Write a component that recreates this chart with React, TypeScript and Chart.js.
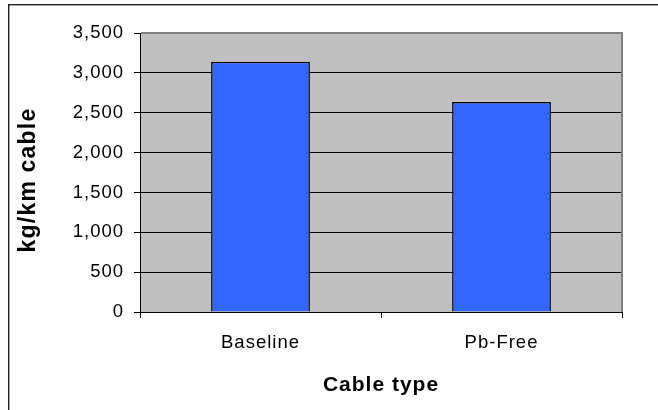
import React, { useEffect, useRef } from 'react';
import { Chart, registerables } from 'chart.js';

Chart.register(...registerables);

const categories: string[] = ['Baseline', 'Pb-Free'];
const seriesValues: number[] = [3140, 2635];
const yTickValues: number[] = [0, 500, 1000, 1500, 2000, 2500, 3000, 3500];
const yTitle = 'kg/km cable';
const xTitle = 'Cable type';

const FONT = '"Liberation Sans", Arial, Helvetica, sans-serif';

const decorPlugin = {
  id: 'decor',
  beforeDraw(chart: any) {
    const ctx = chart.ctx;
    const a = chart.chartArea;
    ctx.letterSpacing = '1px';
    ctx.save();
    ctx.fillStyle = '#222222';
    ctx.fillRect(8, 4, chart.width - 8, 1.4);
    ctx.fillRect(8, 4, 1.4, chart.height - 4);
    ctx.fillStyle = '#C0C0C0';
    ctx.fillRect(a.left, a.top, a.right - a.left, a.bottom - a.top);
    ctx.restore();
  },
  afterDraw(chart: any) {
    const ctx = chart.ctx;
    const a = chart.chartArea;
    ctx.save();
    ctx.fillStyle = '#808080';
    ctx.fillRect(a.left + 1, a.top - 1, a.right - a.left, 2);
    ctx.fillRect(a.right - 1, a.top - 1, 2, a.bottom - a.top + 1);
    ctx.restore();
    // y axis title
    ctx.save();
    ctx.letterSpacing = '1.2px';
    ctx.translate(29, 180);
    ctx.rotate(-Math.PI / 2);
    ctx.fillStyle = '#000000';
    ctx.font = 'bold 23px ' + FONT;
    ctx.textAlign = 'center';
    ctx.textBaseline = 'middle';
    ctx.fillText(yTitle, 0, 0);
    ctx.restore();
  },
};

export default function App() {
  const ref = useRef<HTMLCanvasElement | null>(null);
  useEffect(() => {
    if (!ref.current) return;
    const chart = new Chart(ref.current, {
      type: 'bar',
      data: {
        labels: categories,
        datasets: [
          {
            data: seriesValues,
            backgroundColor: '#3366FF',
            borderColor: '#000000',
            borderWidth: 1.5,
            categoryPercentage: 1,
            barPercentage: 0.41,
          },
        ],
      },
      options: {
        animation: false,
        responsive: false,
        devicePixelRatio: 1,
        layout: { padding: { top: 33, right: 36, left: 0, bottom: 0 } },
        plugins: { legend: { display: false }, tooltip: { enabled: false }, title: { display: false } },
        scales: {
          x: {
            type: 'category',
            offset: true,
            grid: {
              offset: true,
              drawOnChartArea: false,
              drawTicks: true,
              tickLength: 6,
              color: '#000000',
            },
            border: { display: true, color: '#000000', width: 1 },
            ticks: {
              color: '#000000',
              font: { family: FONT, size: 18.5 },
              padding: 14,
              maxRotation: 0,
              autoSkip: false,
            },
            title: {
              display: true,
              text: xTitle,
              color: '#000000',
              font: { family: FONT, size: 21, weight: 'bold' },
              padding: { top: 0, bottom: 12 },
            },
            afterFit(scale: any) {
              scale.height = 98;
            },
          },
          y: {
            min: 0,
            max: 3500,
            afterBuildTicks(scale: any) {
              scale.ticks = yTickValues.map((v) => ({ value: v }));
            },
            grid: {
              color: (c: any) => (c.tick && c.tick.value === 3500 ? 'rgba(0,0,0,0)' : '#000000'),
              tickColor: '#000000',
              tickLength: 6,
              drawTicks: true,
            },
            border: { display: true, color: '#000000', width: 1 },
            ticks: {
              color: '#000000',
              font: { family: FONT, size: 18.5 },
              padding: 10,
              callback: (v: any) => Number(v).toLocaleString('en-US'),
            },
            title: { display: false },
            afterFit(scale: any) {
              scale.width = 140;
            },
          },
        },
      },
      plugins: [decorPlugin],
    });
    return () => chart.destroy();
  }, []);
  return (
    <div style={{ position: 'absolute', left: 0, top: 0, width: 658, height: 410, background: '#ffffff' }}>
      <canvas ref={ref} width={658} height={410} style={{ width: 658, height: 410, display: 'block' }} />
    </div>
  );
}
